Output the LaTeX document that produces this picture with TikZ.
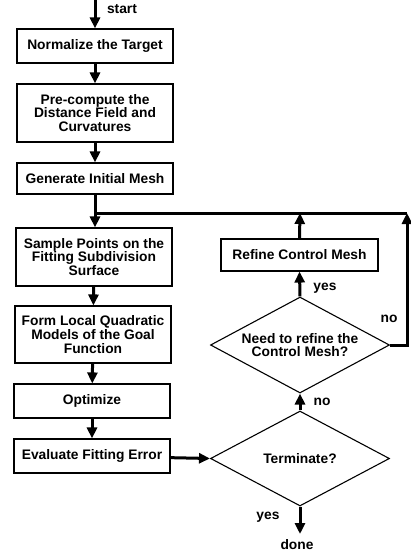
\documentclass[tikz,border=0pt]{standalone}
\usepackage{fontspec}
\setmainfont{Liberation Sans}
\usetikzlibrary{shapes.geometric,arrows.meta}
\begin{document}
\begin{tikzpicture}[x=1pt,y=-1pt,
  txt/.style={font=\fontsize{13.8}{13.7}\selectfont\bfseries},
  box/.style={txt,draw,line width=1.1pt,inner sep=0pt,align=center,minimum width=156pt},
  dia/.style={txt,diamond,aspect=1.9,draw,line width=1.1pt,inner sep=0pt,align=center,minimum width=179pt,minimum height=95pt},
  arr/.style={line width=3pt,-{Triangle[length=11pt,width=10pt]}},
  ln/.style={line width=3pt},
  lbl/.style={txt,inner sep=0pt}]
\useasboundingbox (0,0) rectangle (411,555);
\node[box,minimum height=34pt] (n1) at (95,46) {Normalize the Target};
\node[box,minimum height=58pt] (n2) at (95,113) {Pre-compute the\\Distance Field and\\Curvatures};
\node[box,minimum height=31pt] (n3) at (95,178.5) {Generate Initial Mesh};
\node[box,minimum height=58pt] (n4) at (94,257) {Sample Points on the\\Fitting Subdivision\\Surface};
\node[box,minimum height=57pt] (n5) at (93,334.5) {Form Local Quadratic\\Models of the Goal\\Function};
\node[box,minimum height=34pt] (n6) at (92,401) {Optimize};
\node[box,minimum height=34pt] (n7) at (92,456) {Evaluate Fitting Error};
\node[box,minimum height=32pt,minimum width=157pt] (rf) at (299.5,255) {Refine Control Mesh};
\node[dia] (term) at (300,458.5) {Terminate?};
\node[dia,minimum height=96pt] (need) at (300,345) {Need to refine the\\Control Mesh?};
\coordinate (s) at (95,0);
\coordinate (j) at (95,213);
\coordinate (c) at (407,213);
\coordinate (r) at (407,345);
\coordinate (d) at (300,534);
\coordinate (rt) at (300,213);
\draw[arr] (s) -- (n1);
\draw[arr] (n1) -- (n2);
\draw[arr] (n2) -- (n3);
\draw[arr] (n3.south) -- (n4.north -| n3.south);
\draw[arr] (n4) -- (n5);
\draw[arr] (n5) -- (n6);
\draw[arr] (n6) -- (n7);
\draw[arr] (n7) -- (term.west);
\draw[arr] (term.south) -- (d);
\draw[arr] (term.north) -- (need.south);
\draw[arr] (need.north) -- (rf.south);
\draw[arr] (rf.north) -- (rt);
\draw[arr] (need.east) -- (r) -- (c);
\draw[ln] (c) -- (j);
\node[lbl] (ls) at (122,9) {start};
\node[lbl] (ly1) at (325,288) {yes};
\node[lbl] (ln1) at (389,319) {no};
\node[lbl] (ln2) at (322,402) {no};
\node[lbl] (ly2) at (268,517) {yes};
\node[lbl] (ld) at (297,545) {done};
\end{tikzpicture}
\end{document}
